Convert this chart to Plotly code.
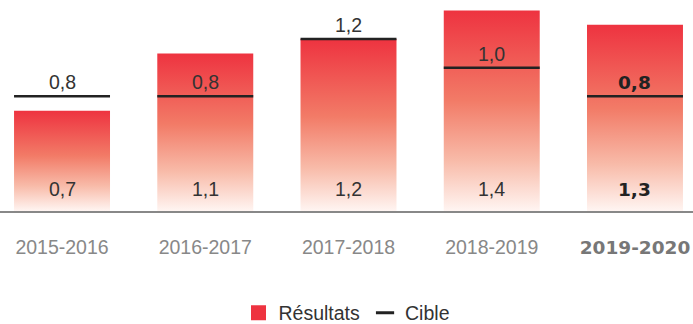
import plotly.graph_objects as go

# Data
seasons = ["2015-2016", "2016-2017", "2017-2018", "2018-2019", "2019-2020"]
results = [0.7, 1.1, 1.2, 1.4, 1.3]
targets = [0.8, 0.8, 1.2, 1.0, 0.8]
result_labels = ["0,7", "1,1", "1,2", "1,4", "1,3"]
target_labels = ["0,8", "0,8", "1,2", "1,0", "0,8"]

RED = "#EE3340"
BAR_W = 0.67
FONT = "Liberation Sans, Arial, sans-serif"
BOLD_FONT = "DejaVu Sans, Liberation Sans, sans-serif"
gradient = [[0.0, "#FFF5F2"], [0.25, "#F8BBA9"], [0.55, "#F27B67"], [1.0, RED]]

fig = go.Figure()

# Gradient-filled bars (one filled polygon per season)
for i, v in enumerate(results):
    x0, x1 = i - BAR_W / 2, i + BAR_W / 2
    fig.add_trace(go.Scatter(
        x=[x0, x0, x1, x1, x0], y=[0, v, v, 0, 0],
        mode="lines", line=dict(width=0), fill="toself",
        fillgradient=dict(type="vertical", colorscale=gradient),
        hoverinfo="skip", showlegend=False,
    ))

# Target lines
tx, ty = [], []
for i, t in enumerate(targets):
    tx += [i - BAR_W / 2, i + BAR_W / 2, None]
    ty += [t, t, None]
fig.add_trace(go.Scatter(x=tx, y=ty, mode="lines",
                         line=dict(color="#222222", width=2.5),
                         hoverinfo="skip", showlegend=False))

# Legend entries
fig.add_trace(go.Scatter(x=[None], y=[None], mode="markers", name="Résultats",
                         marker=dict(symbol="square", size=15, color=RED)))
fig.add_trace(go.Scatter(x=[None], y=[None], mode="markers", name="Cible",
                         marker=dict(symbol="line-ew", size=13,
                                     line=dict(width=3, color="#222222"))))

# Value labels
last = len(seasons) - 1
for i, (v, t) in enumerate(zip(results, targets)):
    bold = i == last
    f = dict(family=BOLD_FONT if bold else FONT, size=18.5 if bold else 19.5,
             color="#222222" if bold else "#333333")
    fig.add_annotation(x=i, y=0, yref="y", text=(f"<b>{result_labels[i]}</b>" if bold else result_labels[i]),
                       showarrow=False, yanchor="middle", yshift=22, font=f)
    fig.add_annotation(x=i, y=t, yref="y", text=(f"<b>{target_labels[i]}</b>" if bold else target_labels[i]),
                       showarrow=False, yanchor="middle", yshift=14, font=f)

ticktext = list(seasons)
ticktext[last] = f'<span style="font-family:DejaVu Sans;font-size:18.5px;color:#777777"><b>{seasons[last]}</b></span>'

fig.update_layout(
    width=693, height=324,
    margin=dict(l=0, r=0, t=0, b=113, autoexpand=False),
    paper_bgcolor="white", plot_bgcolor="white",
    font=dict(family=FONT, size=19.5, color="#333333"),
    xaxis=dict(range=[-0.433, 4.405], tickvals=list(range(len(seasons))),
               ticktext=ticktext, showgrid=False, zeroline=False,
               showline=True, linecolor="#888888", linewidth=2,
               ticks="outside", ticklen=18, tickcolor="rgba(0,0,0,0)",
               tickfont=dict(color="#888888", size=19.5), fixedrange=True),
    yaxis=dict(range=[0, 1.4725], visible=False, fixedrange=True),
    showlegend=True,
    legend=dict(orientation="h", x=0.5, xanchor="center",
                yref="container", y=11 / 324, yanchor="middle",
                font=dict(size=19.5, color="#333333"), itemclick=False),
)

fig.write_html("out.html")
